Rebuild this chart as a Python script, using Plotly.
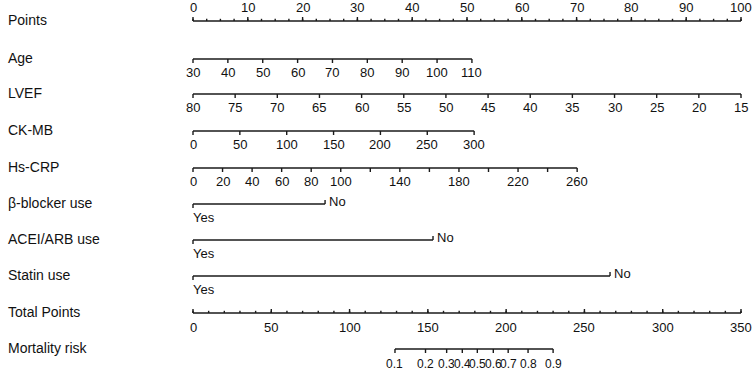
import plotly.graph_objects as go

# ---------------- data ----------------
row_names = ["Points", "Age", "LVEF", "CK-MB", "Hs-CRP", "β-blocker use",
             "ACEI/ARB use", "Statin use", "Total Points", "Mortality risk"]

points_major = list(range(0, 101, 10))
points_minor = [i * 2.5 for i in range(41)]

age_values = [30, 40, 50, 60, 70, 80, 90, 100, 110]
age_max_points = 50.9

lvef_values = [80, 75, 70, 65, 60, 55, 50, 45, 40, 35, 30, 25, 20, 15]
lvef_max_points = 100.0

ckmb_values = [0, 50, 100, 150, 200, 250, 300]
ckmb_max_points = 51.3

crp_ticks = list(range(0, 261, 20))
crp_labels = [0, 20, 40, 60, 80, 100, 140, 180, 220, 260]
crp_max_points = 70.1

cat_levels = ["Yes", "No"]
beta_points = [0, 24.1]
acei_points = [0, 43.8]
statin_points = [0, 76.1]

total_ticks = list(range(0, 351, 10))
total_labels = list(range(0, 351, 50))
total_max = 350

risk_labels = ["0.1", "0.2", "0.3", "0.4", "0.5", "0.6", "0.7", "0.8", "0.9"]
risk_total_points = [129, 148.5, 162, 172, 181.6, 191.8, 201.3, 214, 230]

# ---------------- layout constants ----------------
W, H = 753, 371
X0_PX, X100_PX = 193, 741
PX_PER_PT = (X100_PX - X0_PX) / 100.0
row_y = [21, 59, 94, 131, 168, 204, 240, 276, 313, 349]
LINE_COLOR = "#1a1a1a"
TEXT_COLOR = "#111111"
FONT = "Liberation Sans, Arial, sans-serif"
TICK_FS = 13
ROW_FS = 14

fig = go.Figure()
annotations = []


def seg_trace(xs, ys, width=1.4):
    fig.add_trace(go.Scatter(x=xs, y=ys, mode="lines",
                             line=dict(color=LINE_COLOR, width=width),
                             hoverinfo="skip", showlegend=False))


def label(x, y, text, xanchor="center", size=TICK_FS):
    annotations.append(dict(x=x, y=y, xref="x", yref="y", text=text,
                            showarrow=False, xanchor=xanchor, yanchor="middle",
                            borderpad=0,
                            font=dict(family=FONT, size=size, color=TEXT_COLOR)))


def tick_px(n):
    return n / PX_PER_PT  # convert px length to points units (x)


def axis(pts, y, tick_len, direction, labels=None, label_off=13, minor=None,
         minor_len=2.2, size=TICK_FS):
    xs, ys = [min(pts + (minor or [])), max(pts + (minor or []))], [y, y]
    xs.append(None); ys.append(None)
    for p in pts:
        xs += [p, p, None]
        ys += [y, y + direction * tick_len, None]
    if minor:
        for p in minor:
            xs += [p, p, None]
            ys += [y, y + direction * minor_len, None]
    seg_trace(xs, ys)
    if labels:
        for p, t in labels:
            label(p, y + label_off, t, size=size)


# Points
axis(points_major, row_y[0], 4, -1, minor=points_minor,
     labels=[(p, str(p)) for p in points_major], label_off=-14)

# Age
age_pts = [(v - age_values[0]) / (age_values[-1] - age_values[0]) * age_max_points
           for v in age_values]
axis(age_pts, row_y[1], 4, 1, labels=list(zip(age_pts, map(str, age_values))))

# LVEF
lvef_pts = [(lvef_values[0] - v) / (lvef_values[0] - lvef_values[-1]) * lvef_max_points
            for v in lvef_values]
axis(lvef_pts, row_y[2], 4, 1, labels=list(zip(lvef_pts, map(str, lvef_values))))

# CK-MB
ck_pts = [v / ckmb_values[-1] * ckmb_max_points for v in ckmb_values]
axis(ck_pts, row_y[3], 4, 1, labels=list(zip(ck_pts, map(str, ckmb_values))))

# Hs-CRP
crp_pts = [v / crp_ticks[-1] * crp_max_points for v in crp_ticks]
axis(crp_pts, row_y[4], 4, 1,
     labels=[(v / crp_ticks[-1] * crp_max_points, str(v)) for v in crp_labels])

# Categorical rows
for y, cp in zip(row_y[5:8], [beta_points, acei_points, statin_points]):
    xs = [cp[0], cp[1], None, cp[0], cp[0], None, cp[1], cp[1]]
    ys = [y, y, None, y, y + 4, None, y, y - 4]
    seg_trace(xs, ys)
    label(cp[0] - tick_px(1), y + 13, cat_levels[0], xanchor="left")
    label(cp[1] + tick_px(3), y - 3, cat_levels[1], xanchor="left")

# Total Points
tot_pts = [t / total_max * 100 for t in total_ticks]
major_tot = [t / total_max * 100 for t in total_labels]
axis(major_tot, row_y[8], 4, -1, minor=tot_pts,
     labels=list(zip(major_tot, map(str, total_labels))), label_off=14)

# Mortality risk
risk_pts = [t / total_max * 100 for t in risk_total_points]
axis(risk_pts, row_y[9], 4, 1, labels=list(zip(risk_pts, risk_labels)),
     label_off=15, size=12)

# Row labels
for name, y in zip(row_names, row_y):
    annotations.append(dict(x=7 / W, y=y - 1, xref="paper", yref="y", text=name,
                            showarrow=False, xanchor="left", yanchor="middle",
                            borderpad=0,
                            font=dict(family=FONT, size=ROW_FS, color=TEXT_COLOR)))

x_min = -X0_PX / PX_PER_PT
x_max = (W - X0_PX) / PX_PER_PT

fig.update_layout(
    width=W, height=H,
    margin=dict(l=0, r=0, t=0, b=0),
    paper_bgcolor="white", plot_bgcolor="white",
    xaxis=dict(range=[x_min, x_max], visible=False, fixedrange=True),
    yaxis=dict(range=[H, 0], visible=False, fixedrange=True),
    annotations=annotations,
    showlegend=False,
)

fig.write_html("out.html", config={"displayModeBar": False},
               post_script="document.body.style.margin='0';document.body.style.overflow='hidden';")
